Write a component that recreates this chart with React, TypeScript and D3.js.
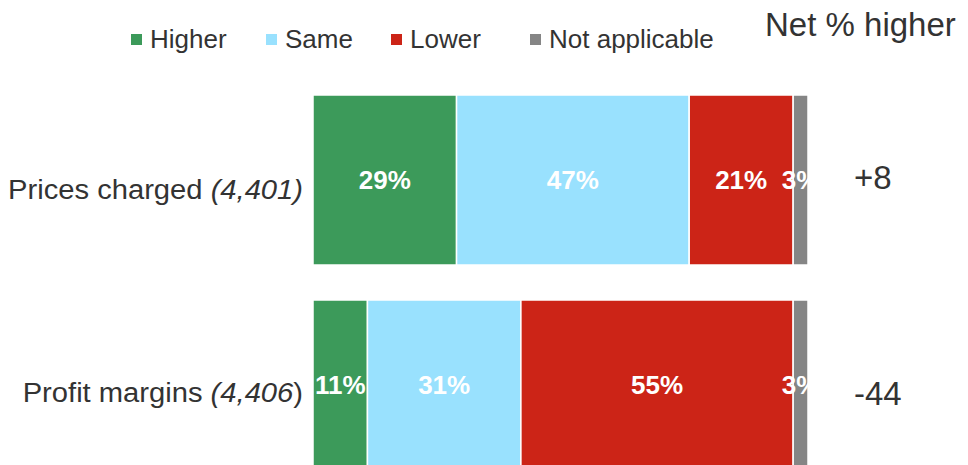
import React, { useEffect, useRef } from 'react';
import * as d3 from 'd3';

const categories = ['Prices charged', 'Profit margins'];
const sampleSizes = ['(4,401)', '(4,406'];
const sampleTails = ['', ')'];
const seriesNames = ['Higher', 'Same', 'Lower', 'Not applicable'];
const higher = [29, 11];
const same = [47, 31];
const lower = [21, 55];
const notApplicable = [3, 3];
const netHigher = ['+8', '-44'];
const colors = ['#3c9a5a', '#99e1fe', '#cc2417', '#858585'];

const W = 968;
const H = 465;

const App = () => {
  const svgRef = useRef<SVGSVGElement>(null);

  useEffect(() => {
    document.body.style.margin = '0';
    const svg = d3.select(svgRef.current);
    svg.selectAll('*').remove();

    const font = 'Arial, "Liberation Sans", sans-serif';
    const textColor = '#333333';

    const rows = categories.map((c, i) => ({
      cat: c,
      values: [higher[i], same[i], lower[i], notApplicable[i]]
    }));

    const x = d3.scaleLinear().domain([0, 100]).range([313, 808]);
    const y = d3.scaleBand().domain(categories).range([95, 470]).paddingInner(35 / 205).paddingOuter(0);

    const defs = svg.append('defs');
    defs.append('clipPath').attr('id', 'plotClip')
      .append('rect').attr('x', x(0)).attr('y', 0).attr('width', x(100) - x(0)).attr('height', H);

    // barras apiladas
    const stack = d3.stack<any>().keys(['0', '1', '2', '3']).value((d, k) => d.values[+k]);
    const series = stack(rows);

    const bars = svg.append('g');
    series.forEach((s, si) => {
      bars.selectAll(null)
        .data(s)
        .enter()
        .append('rect')
        .attr('x', d => x(d[0]))
        .attr('y', d => y(d.data.cat)!)
        .attr('width', d => x(d[1]) - x(d[0]))
        .attr('height', y.bandwidth())
        .attr('fill', colors[si])
        .attr('stroke', '#ffffff')
        .attr('stroke-width', 1.5);
    });

    // etiquetas de porcentaje
    const labels = svg.append('g').attr('clip-path', 'url(#plotClip)');
    series.forEach(s => {
      labels.selectAll(null)
        .data(s)
        .enter()
        .append('text')
        .attr('x', d => (x(d[0]) + x(d[1])) / 2)
        .attr('y', d => y(d.data.cat)! + y.bandwidth() / 2 + 9)
        .attr('text-anchor', 'middle')
        .attr('font-family', font)
        .attr('font-weight', 'bold')
        .attr('font-size', 26)
        .attr('fill', '#ffffff')
        .text(d => `${d[1] - d[0]}%`);
    });

    // etiquetas de categoría (algo más anchas, como en el original)
    const catDy = [19, 17];
    categories.forEach((c, i) => {
      const t = svg.append('text')
        .attr('transform', `translate(303,${y(c)! + y.bandwidth() / 2 + catDy[i]}) scale(1.08,1)`)
        .attr('text-anchor', 'end')
        .attr('font-family', font)
        .attr('font-size', 27)
        .attr('fill', textColor);
      t.append('tspan').text(c + ' ');
      t.append('tspan').attr('font-style', 'italic').text(sampleSizes[i]);
      if (sampleTails[i]) t.append('tspan').text(sampleTails[i]);
    });

    // neto
    svg.append('text')
      .attr('x', 765).attr('y', 36)
      .attr('font-family', font).attr('font-size', 33)
      .attr('fill', textColor)
      .text('Net % higher');

    const netDy = [9, 20];
    categories.forEach((c, i) => {
      svg.append('text')
        .attr('x', 854)
        .attr('y', y(c)! + y.bandwidth() / 2 + netDy[i])
        .attr('font-family', font).attr('font-size', 33)
        .attr('fill', textColor)
        .text(netHigher[i]);
    });

    // leyenda
    const legendX = [131, 266, 391, 530];
    const legend = svg.append('g');
    seriesNames.forEach((n, i) => {
      legend.append('rect')
        .attr('x', legendX[i]).attr('y', 34)
        .attr('width', 11).attr('height', 11)
        .attr('fill', colors[i]);
      legend.append('text')
        .attr('x', legendX[i] + 19).attr('y', 48)
        .attr('font-family', font).attr('font-size', 26)
        .attr('fill', textColor)
        .text(n);
    });
  }, []);

  return (
    <div style={{ position: 'absolute', left: 0, top: 0, width: W, height: H, background: '#fff' }}>
      <svg ref={svgRef} width={W} height={H} />
    </div>
  );
};

export default App;
